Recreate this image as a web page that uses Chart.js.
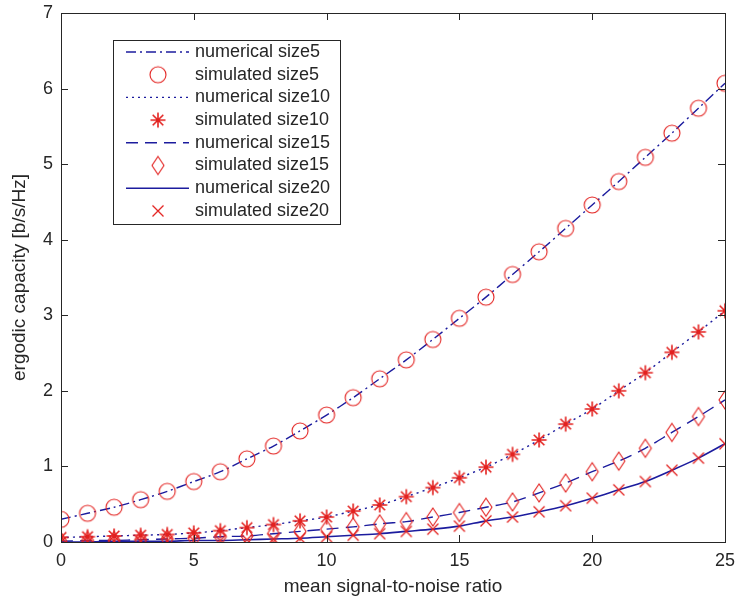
<!DOCTYPE html>
<html>
<head>
<meta charset="utf-8">
<script src="https://cdn.jsdelivr.net/npm/chart.js@4.4.1/dist/chart.umd.min.js"></script>
<style>
  html, body { margin: 0; padding: 0; background: #fff; }
  #wrap { width: 736px; height: 607px; }
</style>
</head>
<body>
<div id="wrap"><canvas id="capacity-chart" width="736" height="607"></canvas></div>
<script>
// data
const snr = [0,1,2,3,4,5,6,7,8,9,10,11,12,13,14,15,16,17,18,19,20,21,22,23,24,25];

const size5  = [0.30,0.38,0.46,0.56,0.67,0.80,0.93,1.10,1.27,1.47,1.68,1.91,2.16,2.41,2.68,2.96,3.24,3.54,3.84,4.15,4.46,4.77,5.09,5.41,5.74,6.07];
const size10 = [0.06,0.07,0.08,0.09,0.10,0.12,0.15,0.19,0.23,0.28,0.33,0.41,0.49,0.60,0.72,0.85,0.99,1.16,1.35,1.56,1.76,2.00,2.24,2.51,2.78,3.06];
const size15 = [0.01,0.02,0.02,0.03,0.04,0.05,0.07,0.08,0.11,0.14,0.17,0.20,0.24,0.27,0.33,0.39,0.46,0.53,0.65,0.78,0.93,1.07,1.24,1.45,1.66,1.88];
const size20 = [0.00,0.00,0.01,0.01,0.01,0.02,0.02,0.03,0.04,0.05,0.07,0.09,0.11,0.14,0.17,0.21,0.28,0.33,0.40,0.48,0.58,0.69,0.80,0.95,1.11,1.30];

const xTicks = [0,5,10,15,20,25];
const yTicks = [0,1,2,3,4,5,6,7];

const legendLabels = [
  "numerical size5","simulated size5",
  "numerical size10","simulated size10",
  "numerical size15","simulated size15",
  "numerical size20","simulated size20",
];

const lineBlue = "#1c1c9e";
const markRed = "#e3211f";
const axisColor = "#262626";
const font = "'Liberation Sans', Arial, sans-serif";

// marker images (matlab style)
function makeMarker(kind){
  const c = document.createElement("canvas");
  c.width = 22; c.height = 22;
  const g = c.getContext("2d");
  g.strokeStyle = markRed;
  g.lineWidth = 1.1;
  g.beginPath();
  if (kind === "o") {
    g.arc(11, 11, 8, 0, Math.PI*2);
  } else if (kind === "*") {
    for (let k = 0; k < 4; k++) {
      const a = k*Math.PI/4;
      g.moveTo(11 - 7.5*Math.cos(a), 11 - 7.5*Math.sin(a));
      g.lineTo(11 + 7.5*Math.cos(a), 11 + 7.5*Math.sin(a));
    }
    g.lineWidth = 1.6;
  } else if (kind === "d") {
    g.moveTo(11, 2); g.lineTo(17, 11); g.lineTo(11, 20); g.lineTo(5, 11); g.closePath();
  } else if (kind === "x") {
    g.moveTo(5.5, 5.5); g.lineTo(16.5, 16.5);
    g.moveTo(16.5, 5.5); g.lineTo(5.5, 16.5);
    g.lineWidth = 1.3;
  }
  g.stroke();
  return c;
}
const mk = { o: makeMarker("o"), "*": makeMarker("*"), d: makeMarker("d"), x: makeMarker("x") };

function pts(arr){ return snr.map((x,i) => ({x: x, y: arr[i]})); }

function lineSet(label, arr, dash, width){
  return { label, data: pts(arr), borderColor: lineBlue, borderWidth: width, borderDash: dash,
    pointRadius: 0, fill: false, tension: 0.3, showLine: true, order: 2 };
}
function markSet(label, arr, marker){
  return { label, data: pts(arr), showLine: false, pointStyle: mk[marker], pointRadius: 10,
    borderColor: markRed, backgroundColor: "transparent", order: 1 };
}

const legendStyles = [
  {dash: [10,4,2,4], w: 1.4}, {m: "o"},
  {dash: [2,4], w: 1.4}, {m: "*"},
  {dash: [12,7], w: 1.4}, {m: "d"},
  {dash: [], w: 1.4}, {m: "x"},
];

// box, inner ticks and legend like matlab
const matlabAxes = {
  id: "matlabAxes",
  afterDraw(chart){
    const {ctx, chartArea: a, scales: {x, y}} = chart;
    ctx.save();
    ctx.strokeStyle = axisColor;
    ctx.lineWidth = 1;
    ctx.setLineDash([]);
    ctx.strokeRect(a.left + 0.5, a.top + 0.5, a.right - a.left, a.bottom - a.top);
    const tl = 7;
    ctx.beginPath();
    xTicks.forEach(v => {
      const px = Math.round(x.getPixelForValue(v)) + 0.5;
      ctx.moveTo(px, a.bottom); ctx.lineTo(px, a.bottom - tl);
      ctx.moveTo(px, a.top); ctx.lineTo(px, a.top + tl);
    });
    yTicks.forEach(v => {
      const py = Math.round(y.getPixelForValue(v)) + 0.5;
      ctx.moveTo(a.left, py); ctx.lineTo(a.left + tl, py);
      ctx.moveTo(a.right, py); ctx.lineTo(a.right - tl, py);
    });
    ctx.stroke();

    // legend
    const lx = 113, ly = 40, lw = 227, lh = 184, rowH = 22.7;
    ctx.fillStyle = "#fff";
    ctx.fillRect(lx, ly, lw, lh);
    ctx.strokeStyle = axisColor;
    ctx.strokeRect(lx + 0.5, ly + 0.5, lw, lh);
    ctx.font = "18px " + font;
    ctx.textBaseline = "middle";
    legendLabels.forEach((t, i) => {
      const cy = ly + 12 + rowH*i;
      const s = legendStyles[i];
      if (s.m) {
        ctx.drawImage(mk[s.m], 158 - 11, cy - 11);
      } else {
        ctx.strokeStyle = lineBlue;
        ctx.lineWidth = s.w;
        ctx.setLineDash(s.dash);
        ctx.beginPath();
        ctx.moveTo(126, cy); ctx.lineTo(189, cy);
        ctx.stroke();
        ctx.setLineDash([]);
      }
      ctx.fillStyle = axisColor;
      ctx.fillText(t, 195, cy);
    });
    ctx.restore();
  }
};

const ctxCap = document.querySelector("#capacity-chart").getContext("2d");

const capacityChart = new Chart(ctxCap, {
  type: "line",
  data: {
    datasets: [
      lineSet(legendLabels[0], size5, [10,4,2,4], 1.4),
      markSet(legendLabels[1], size5, "o"),
      lineSet(legendLabels[2], size10, [2,4], 1.4),
      markSet(legendLabels[3], size10, "*"),
      lineSet(legendLabels[4], size15, [12,7], 1.4),
      markSet(legendLabels[5], size15, "d"),
      lineSet(legendLabels[6], size20, [], 1.6),
      markSet(legendLabels[7], size20, "x"),
    ]
  },
  options: {
    responsive: false,
    animation: false,
    layout: { padding: { left: 0, right: 10, top: 13, bottom: 0 } },
    plugins: { legend: { display: false }, tooltip: { enabled: false } },
    scales: {
      x: {
        type: "linear", min: 0, max: 25,
        afterBuildTicks: s => { s.ticks = xTicks.map(v => ({value: v})); },
        afterFit: s => { s.height = 65; },
        grid: { display: false },
        border: { display: false },
        ticks: { color: axisColor, font: { family: font, size: 18 }, padding: 0 },
        title: { display: true, text: "mean signal-to-noise ratio", color: axisColor,
          font: { family: font, size: 19 }, padding: { top: 0, bottom: 9 } }
      },
      y: {
        type: "linear", min: 0, max: 7,
        afterBuildTicks: s => { s.ticks = yTicks.map(v => ({value: v})); },
        afterFit: s => { s.width = 61; },
        grid: { display: false },
        border: { display: false },
        ticks: { color: axisColor, font: { family: font, size: 18 }, padding: 0 },
        title: { display: true, text: "ergodic capacity [b/s/Hz]", color: axisColor,
          font: { family: font, size: 19 }, padding: { top: 8, bottom: 0 } }
      }
    }
  },
  plugins: [matlabAxes]
});
</script>
</body>
</html>
